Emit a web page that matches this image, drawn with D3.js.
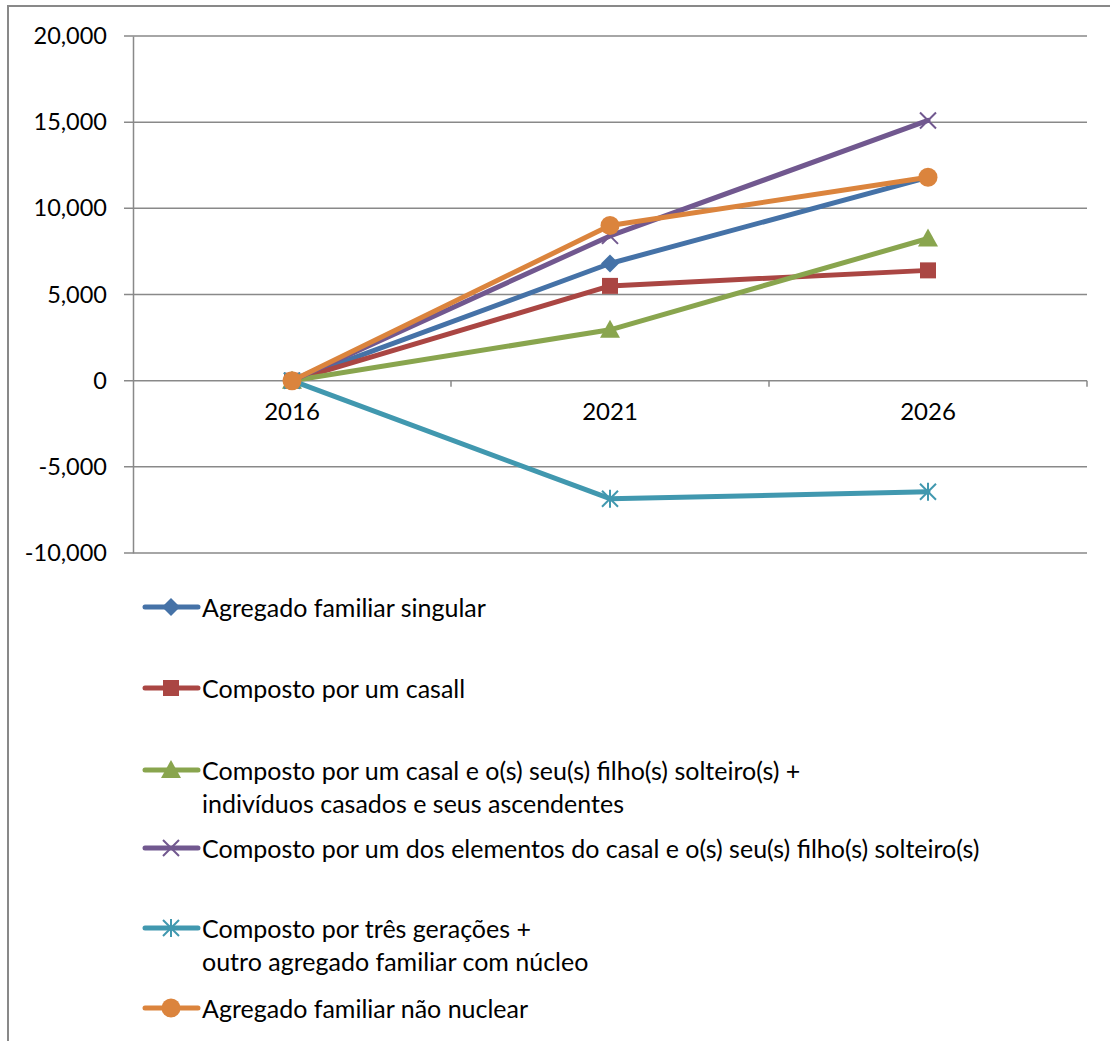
<!DOCTYPE html>
<html>
<head>
<meta charset="utf-8">
<script src="https://cdn.jsdelivr.net/npm/d3@7"></script>
<style>
  body { margin: 0; background: #fff; }
  text { font-family: Lato, "Open Sans", sans-serif; fill: #000; }
</style>
</head>
<body>
<script>
// DATA
var years = ["2016", "2021", "2026"];
var yTicks = [-10000, -5000, 0, 5000, 10000, 15000, 20000];
var seriesNames = [
  ["Agregado familiar singular"],
  ["Composto por um casall"],
  ["Composto por um casal e o(s) seu(s) filho(s) solteiro(s) +", "indivíduos casados e seus ascendentes"],
  ["Composto por um dos elementos do casal e o(s) seu(s) filho(s) solteiro(s)"],
  ["Composto por três gerações +", "outro agregado familiar com núcleo"],
  ["Agregado familiar não nuclear"]
];
var singular = [0, 6800, 11800];
var casal = [0, 5500, 6400];
var casalFilhos = [0, 2950, 8250];
var umElemento = [0, 8400, 15100];
var tresGeracoes = [0, -6850, -6450];
var naoNuclear = [0, 9000, 11800];

var colors = ["#4572a7", "#aa4643", "#89a54e", "#71588f", "#4198af", "#db843d"];
var symbols = ["diamond", "square", "triangle", "x", "star", "circle"];
var allSeries = [singular, casal, casalFilhos, umElemento, tresGeracoes, naoNuclear];

// D3
var svg = d3.select("body").append("svg")
    .attr("width", 1110)
    .attr("height", 1041);

// outer frame
svg.append("rect")
    .attr("x", 8).attr("y", 6)
    .attr("width", 1130).attr("height", 1060)
    .attr("fill", "none")
    .attr("stroke", "#898989")
    .attr("stroke-width", 2);

const margin = {top: 36, left: 133, right: 23};
const width = 1110 - margin.left - margin.right;
const height = 517;

const xScale = d3.scaleBand().domain(years).range([0, width]);
const yScale = d3.scaleLinear().domain([-10000, 20000]).range([height, 0]);

const g = svg.append("g")
    .attr("transform", "translate(" + margin.left + "," + margin.top + ")");

// gridlines
g.append("g").selectAll("line").data(yTicks).enter().append("line")
    .attr("x1", -9).attr("x2", width)
    .attr("y1", d => yScale(d)).attr("y2", d => yScale(d))
    .attr("stroke", "#898989").attr("stroke-width", 1.5);

// y axis
var yAxis = g.append("g")
    .call(d3.axisLeft(yScale).tickValues(yTicks).tickSize(0).tickPadding(26)
      .tickFormat(d => d3.format(",")(d).replace("−", "-")));
yAxis.select(".domain").attr("stroke", "#898989").attr("stroke-width", 1.5);
yAxis.selectAll("text").style("font-size", "23.5px").style("font-family", "Lato, sans-serif");

// x axis at zero
var xAxis = g.append("g")
    .attr("transform", "translate(0," + yScale(0) + ")")
    .call(d3.axisBottom(xScale).tickSize(0).tickPadding(22));
xAxis.select(".domain").remove();
xAxis.selectAll("text").style("font-size", "24px").style("font-family", "Lato, sans-serif");
// boundary tick marks
g.append("g").selectAll("line").data(years.slice(1).concat(["end"])).enter().append("line")
    .attr("x1", (d, i) => xScale.step() * (i + 1)).attr("x2", (d, i) => xScale.step() * (i + 1))
    .attr("y1", yScale(0)).attr("y2", yScale(0) + 6)
    .attr("stroke", "#898989").attr("stroke-width", 1.5);

function drawMarker(sel, type, color, cx, cy) {
  var s = 8;
  if (type === "diamond") {
    sel.append("path").attr("d", "M" + cx + "," + (cy - 9) + "L" + (cx + 9) + "," + cy + "L" + cx + "," + (cy + 9) + "L" + (cx - 9) + "," + cy + "Z")
      .attr("fill", color);
  } else if (type === "square") {
    sel.append("rect").attr("x", cx - 8).attr("y", cy - 8).attr("width", 16).attr("height", 16)
      .attr("fill", color);
  } else if (type === "triangle") {
    sel.append("path").attr("d", "M" + cx + "," + (cy - 10) + "L" + (cx + 10) + "," + (cy + 8) + "L" + (cx - 10) + "," + (cy + 8) + "Z")
      .attr("fill", color);
  } else if (type === "circle") {
    sel.append("circle").attr("cx", cx).attr("cy", cy).attr("r", 9.5).attr("fill", color);
  } else if (type === "x") {
    sel.append("path").attr("d", "M" + (cx - s) + "," + (cy - s) + "L" + (cx + s) + "," + (cy + s) +
      "M" + (cx - s) + "," + (cy + s) + "L" + (cx + s) + "," + (cy - s))
      .attr("stroke", color).attr("stroke-width", 2).attr("fill", "none");
  } else if (type === "star") {
    sel.append("path").attr("d", "M" + (cx - s) + "," + (cy - s) + "L" + (cx + s) + "," + (cy + s) +
      "M" + (cx - s) + "," + (cy + s) + "L" + (cx + s) + "," + (cy - s) +
      "M" + cx + "," + (cy - 9) + "L" + cx + "," + (cy + 9))
      .attr("stroke", color).attr("stroke-width", 2).attr("fill", "none");
  }
}

var line = d3.line()
    .x((d, i) => xScale(years[i]) + xScale.bandwidth() / 2)
    .y(d => yScale(d));

allSeries.forEach(function(vals, k) {
  var sg = g.append("g");
  sg.append("path").datum(vals).attr("d", line)
    .attr("fill", "none").attr("stroke", colors[k]).attr("stroke-width", 5)
    .attr("stroke-linejoin", "round").attr("stroke-linecap", "round");
  vals.forEach(function(v, i) {
    drawMarker(sg, symbols[k], colors[k], xScale(years[i]) + xScale.bandwidth() / 2, yScale(v));
  });
});

// legend
var legendY = [607, 688, 770, 848, 928, 1008];
var lg = svg.append("g");
seriesNames.forEach(function(lines, k) {
  var y = legendY[k];
  lg.append("line").attr("x1", 145).attr("x2", 198).attr("y1", y).attr("y2", y)
    .attr("stroke", colors[k]).attr("stroke-width", 5).attr("stroke-linecap", "round");
  drawMarker(lg, symbols[k], colors[k], 171, y);
  lines.forEach(function(t, j) {
    lg.append("text").attr("x", 202).attr("y", y + j * 33)
      .attr("dominant-baseline", "central")
      .style("font-size", "25px")
      .text(t);
  });
});
</script>
</body>
</html>
